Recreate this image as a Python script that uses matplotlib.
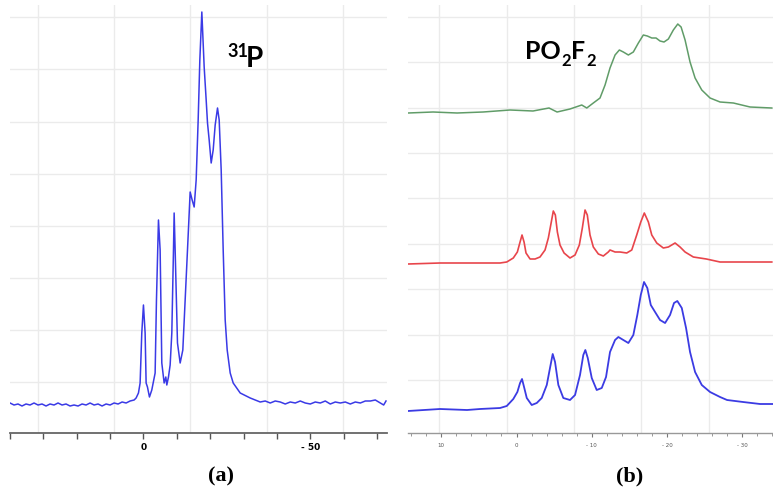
import matplotlib
matplotlib.use('Agg')
import matplotlib.pyplot as plt
import numpy as np
from matplotlib.ticker import MultipleLocator, FuncFormatter

# ==========================================================================
#  Dati
# (a) spettro 31P: chemical shift [ppm] e intensita' [a.u.]
ppm_a = [40.0, 38.8, 37.6, 36.4, 35.2, 34.0, 32.8, 31.6, 30.4, 29.2, 28.0, 26.8,
         25.6, 24.4, 23.2, 22.0, 20.8, 19.6, 18.4, 17.2, 16.0, 14.8, 13.6, 12.4,
         11.2, 10.0, 8.8, 7.6, 6.4, 5.2, 4.0, 2.8, 2.2, 1.5, 1.0, 0.5, 0.0, -0.5,
         -0.8, -1.2, -1.8, -2.5, -3.5, -3.9, -4.5, -5.0, -5.5, -6.2, -6.7, -7.0,
         -7.5, -8.0, -8.5, -9.0, -9.2, -9.5, -10.2, -11.0, -11.8, -12.5, -13.2,
         -14.0, -14.6, -15.2, -15.8, -16.4, -16.9, -17.5, -18.2, -18.8, -19.2,
         -19.7, -20.3, -20.9, -21.5, -22.2, -22.7, -23.3, -23.9, -24.5, -25.1,
         -26.0, -26.9, -29.0, -32.0, -33.5, -35.0, -36.5, -38.0, -39.5, -41.0,
         -42.5, -44.0, -45.5, -47.0, -48.5, -50.0, -51.5, -53.0, -54.5, -56.0,
         -57.5, -59.0, -60.5, -62.0, -63.5, -65.0, -66.5, -68.0, -69.5, -71.0,
         -72.0, -72.7]
int_a = [1, -1, 0, -2, 0, -1, 1, -1, 0, -2, 0, -1,
         1, -1, 0, -2, -1, -2, 0, -1, 1, -1, 0, -2,
         0, -1, 1, 0, 2, 1, 3, 4, 6, 11, 21, 71, 99, 71,
         21, 17, 7, 14, 31, 104, 184, 154, 41, 21, 27, 19,
         27, 39, 71, 154, 191, 154, 61, 41, 54, 104, 154,
         212, 204, 197, 224, 284, 344, 392, 337, 304, 281,
         264, 241, 254, 279, 296, 284, 234, 154, 84, 54,
         31, 21, 11, 6, 4, 2, 3, 1, 3, 2,
         0, 2, 1, 3, 1, 0, 2, 1, 3, 0,
         2, 1, 2, 0, 2, 1, 3, 3, 4, 1,
         -1, 3]

# (b) PO2F2: tre spettri sovrapposti (blu, rosso, verde) + offset verticali
ppm_blue = [14.43, 10.17, 6.58, 4.85, 2.19, 1.30, 0.43, -0.11, -0.47, -0.73,
            -1.00, -1.36, -2.02, -2.69, -3.35, -4.02, -4.45, -4.81, -5.12,
            -5.56, -6.22, -7.11, -7.78, -8.44, -8.88, -9.15, -9.47, -10.00,
            -10.66, -11.33, -11.90, -12.43, -13.10, -13.54, -14.20, -14.87,
            -15.53, -16.06, -16.52, -16.95, -17.39, -17.85, -18.42, -19.08,
            -19.75, -20.41, -20.94, -21.38, -21.97, -22.54, -23.07, -23.74,
            -24.63, -25.73, -27.06, -27.99, -30.12, -32.38, -33.98]
int_blue = [0, 2, 1, 2, 3, 5, 12, 19, 28, 32,
            24, 13, 6, 8, 13, 26, 43, 57, 49,
            26, 13, 11, 16, 36, 56, 61, 53, 33,
            21, 23, 34, 59, 71, 74, 71, 68,
            76, 96, 116, 129, 123, 106, 99, 91,
            88, 96, 108, 110, 103, 83, 59, 39,
            26, 19, 14, 11, 9, 7, 7]

ppm_red = [14.43, 10.17, 6.58, 2.19, 1.30, 0.43, -0.11, -0.47, -0.73, -1.00,
           -1.26, -1.80, -2.46, -3.12, -3.79, -4.23, -4.55, -4.89, -5.16,
           -5.43, -5.78, -6.32, -7.11, -7.78, -8.35, -8.75, -9.11, -9.41,
           -9.77, -10.21, -10.88, -11.54, -12.20, -12.43, -13.10, -13.76,
           -14.65, -15.32, -15.98, -16.52, -16.99, -17.53, -17.98, -18.64,
           -19.52, -20.19, -21.08, -21.74, -22.41, -23.51, -25.24, -27.06,
           -28.83, -31.49, -33.94]
int_red = [0, 1, 1, 1, 2, 6, 12, 22, 29, 22,
           11, 5, 5, 7, 14, 26, 39, 53, 49,
           32, 19, 11, 6, 9, 19, 36, 54, 49,
           29, 17, 10, 8, 12, 14, 12, 12,
           11, 14, 29, 42, 51, 42, 29, 21,
           16, 17, 21, 17, 12, 7, 5, 2,
           2, 2, 2]

ppm_green = [14.43, 11.10, 7.91, 4.45, 0.86, -2.19, -4.32, -5.39, -7.11, -8.67,
             -9.34, -10.21, -11.10, -11.77, -12.43, -13.10, -13.67, -14.20,
             -14.87, -15.53, -16.20, -16.86, -17.39, -17.98, -18.55, -19.08,
             -19.61, -20.19, -20.85, -21.44, -21.88, -22.41, -23.07, -23.74,
             -24.63, -25.73, -27.06, -28.83, -31.05, -33.94]
int_green = [-1, 0, -1, 0, 2, 1, 4, 0, 3, 7,
             4, 9, 14, 27, 44, 57, 62, 60,
             57, 60, 69, 77, 76, 74, 74, 71,
             70, 73, 82, 88, 85, 72, 50, 34,
             22, 14, 10, 9, 5, 4]

offsets_b = [0, 147, 299]   # blu, rosso, verde

# ==========================================================================
#  Figura
fig = plt.figure(figsize=(7.73, 4.92), dpi=100)
W, H = 773, 492

def px_axes(x0, x1, y0, y1):
    # assi posizionati in pixel (y dall'alto)
    return fig.add_axes([x0/W, 1 - y1/H, (x1 - x0)/W, (y1 - y0)/H])

gcol = '#ebebeb'

# ---------------- pannello (a)
ax1 = px_axes(10, 387, 5, 433)
ax1.set_xlim(40.0, -73.0)
ax1.set_ylim(-29, 399)
for g in np.arange(31.5, -75, -22.8):
    ax1.axvline(g, color=gcol, lw=1.0, zorder=0)
for g in np.arange(22, 399, 52.1):
    ax1.axhline(g, color=gcol, lw=1.0, zorder=0)
ax1.plot(ppm_a, int_a, color='#3a3ae6', lw=1.1)

def fmt_a(v, pos):
    v = int(round(v))
    if v % 50:
        return ''
    return '0' if v == 0 else '- %d' % abs(v)

ax1.xaxis.set_major_locator(MultipleLocator(10))
ax1.xaxis.set_major_formatter(FuncFormatter(fmt_a))
ax1.tick_params(axis='x', direction='out', length=4, width=1, color='#555555',
                labelsize=6.5, pad=3)
for t in ax1.get_xticklabels():
    t.set_fontweight('bold')
ax1.set_yticks([])
for s in ['left', 'right', 'top']:
    ax1.spines[s].set_visible(False)
ax1.spines['bottom'].set_color('#666666')
ax1.spines['bottom'].set_linewidth(1.3)

# ---------------- pannello (b)
ax2 = px_axes(408, 773, 5, 433)
ax2.set_xlim(14.43, -34.1)
ax2.set_ylim(-22, 406)
for g in np.arange(10.3, -35, -8.97):
    ax2.axvline(g, color=gcol, lw=1.0, zorder=0)
for g in np.arange(31, 406, 45.4):
    ax2.axhline(g, color=gcol, lw=1.0, zorder=0)
ax2.plot(ppm_blue, np.array(int_blue) + offsets_b[0], color='#3b3be3', lw=1.3,
         solid_joinstyle='round')
ax2.plot(ppm_red, np.array(int_red) + offsets_b[1], color='#e8454b', lw=1.2,
         solid_joinstyle='round')
ax2.plot(ppm_green, np.array(int_green) + offsets_b[2], color='#609c68', lw=1.1,
         solid_joinstyle='round')

def fmt_b(v, pos):
    v = int(round(v))
    return '0' if v == 0 else ('- %d' % abs(v) if v < 0 else '%d' % v)

ax2.xaxis.set_major_locator(MultipleLocator(10))
ax2.xaxis.set_minor_locator(MultipleLocator(2))
ax2.xaxis.set_major_formatter(FuncFormatter(fmt_b))
ax2.tick_params(axis='x', which='major', direction='out', length=3, width=0.8,
                color='#777777', labelsize=4, labelcolor='#555555', pad=4)
ax2.tick_params(axis='x', which='minor', direction='out', length=2, width=0.6,
                color='#888888')
ax2.set_yticks([])
for s in ['left', 'right', 'top']:
    ax2.spines[s].set_visible(False)
ax2.spines['bottom'].set_color('#999999')
ax2.spines['bottom'].set_linewidth(1.0)

# ---------------- etichette
fig.text(227/W, 1 - 57/H, '31', fontsize=13, fontweight='bold', family='Lato',
         va='baseline', ha='left')
fig.text(246/W, 1 - 67/H, 'P', fontsize=20, fontweight='bold', family='Lato',
         va='baseline', ha='left')

# PO2F2 con pedici grandi (stile PowerPoint): pezzi messi uno dopo l'altro
rend = fig.canvas.get_renderer()
xx = 525
for s, yb, fs in [('PO', 59, 18), ('2', 66, 12), ('F', 59, 18), ('2', 66, 12)]:
    t = fig.text(xx/W, 1 - yb/H, s, fontsize=fs, fontweight='bold',
                 family='Lato', va='baseline', ha='left')
    xx = t.get_window_extent(rend).x1 + 0.5

fig.text(221/W, 1 - 476/H, '(a)', fontsize=16, fontweight='bold',
         family='Liberation Serif', ha='center', va='center')
fig.text(630/W, 1 - 476/H, '(b)', fontsize=16, fontweight='bold',
         family='Liberation Serif', ha='center', va='center')

fig.savefig('out.png', dpi=100)
